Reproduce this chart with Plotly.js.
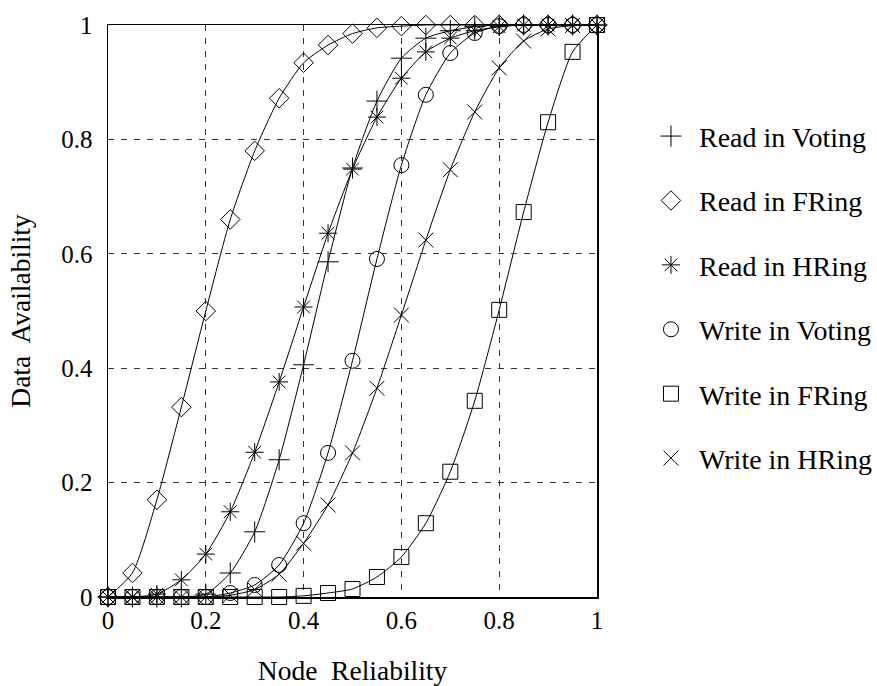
<!DOCTYPE html>
<html>
<head>
<meta charset="utf-8">
<script src="https://cdn.plot.ly/plotly-3.0.1.min.js"></script>
<style>html,body{margin:0;padding:0;background:#fff;}#chart{width:877px;height:686px;}</style>
</head>
<body>
<div id="chart"></div>
<script>
const nodeReliability = [0,0.05,0.1,0.15,0.2,0.25,0.3,0.35,0.4,0.45,0.5,0.55,0.6,0.65,0.7,0.75,0.8,0.85,0.9,0.95,1];
const readVoting  = [0,0,0,0,0.005,0.042,0.114,0.24,0.406,0.586,0.75,0.867,0.942,0.977,0.99,0.997,1,1,1,1,1];
const readFRing   = [0,0.042,0.17,0.332,0.5,0.66,0.78,0.872,0.934,0.965,0.985,0.995,0.998,1,1,1,1,1,1,1,1];
const readHRing   = [0,0,0.005,0.03,0.075,0.149,0.253,0.376,0.507,0.636,0.748,0.839,0.907,0.953,0.977,0.99,0.997,1,1,1,1];
const writeVoting = [0,0,0,0,0,0.007,0.021,0.056,0.129,0.252,0.413,0.591,0.755,0.878,0.951,0.986,0.998,1,1,1,1];
const writeFRing  = [0,0,0,0,0,0,0,0,0.002,0.007,0.014,0.035,0.07,0.129,0.219,0.343,0.502,0.673,0.83,0.953,1];
const writeHRing  = [0,0,0,0,0,0.003,0.013,0.04,0.094,0.161,0.252,0.365,0.493,0.624,0.747,0.848,0.925,0.972,0.993,0.999,1];
const seriesNames = ["Read in Voting","Read in FRing","Read in HRing","Write in Voting","Write in FRing","Write in HRing"];
const seriesData = [readVoting, readFRing, readHRing, writeVoting, writeFRing, writeHRing];
const symbols = ["cross-thin-open","diamond-open","asterisk-open","circle-open","square-open","x-thin-open"];
const tickValues = [0,0.2,0.4,0.6,0.8,1];
const tickLabels = ["0","0.2","0.4","0.6","0.8","1"];

const family = "Liberation Serif, Times New Roman, serif";

const dataTraces = seriesData.map((ys, i) => ({
  x: nodeReliability, y: ys, name: seriesNames[i], type: "scatter", mode: "lines+markers",
  showlegend: false,
  line: {color: "#000", width: 1, shape: "spline", smoothing: 0.6},
  marker: {symbol: symbols[i], size: 15, color: "#000", line: {color: "#000", width: 1}},
  cliponaxis: false
}));
// legend entries (markers only, like the reference key)
const legendTraces = seriesNames.map((nm, i) => ({
  x: [null], y: [null], name: nm, type: "scatter", mode: "markers",
  legendgroup: "g" + i, showlegend: true,
  marker: {symbol: symbols[i], size: 15, color: "#000", line: {color: "#000", width: 1}}
}));

const layout = {
  width: 877, height: 686,
  margin: {l: 108, r: 280, t: 25, b: 89, autoexpand: false},
  paper_bgcolor: "#fff", plot_bgcolor: "#fff",
  font: {family: family, color: "#000", size: 25},
  showlegend: true,
  legend: {x: 1.094, y: 0.849, xanchor: "left", yanchor: "top",
           font: {family: family, size: 28, color: "#000"},
           tracegroupgap: 25, bgcolor: "rgba(0,0,0,0)", itemwidth: 46},
  xaxis: {range: [0, 1], tickvals: tickValues, ticktext: tickLabels,
          tickfont: {family: family, size: 25, color: "#000"},
          showline: true, linecolor: "#000", linewidth: 1.5, mirror: true,
          showgrid: true, gridcolor: "#333", griddash: "6px,7px", gridwidth: 1,
          zeroline: false, ticks: "", automargin: false,
          title: {text: "Node  Reliability", font: {family: family, size: 27.5, color: "#000"}, standoff: 33}},
  yaxis: {range: [0, 1], tickvals: tickValues, ticktext: tickLabels,
          tickfont: {family: family, size: 25, color: "#000"},
          showline: true, linecolor: "#000", linewidth: 1.5, mirror: true,
          showgrid: true, gridcolor: "#333", griddash: "6px,7px", gridwidth: 1,
          zeroline: false, ticks: "outside", ticklen: 9, tickcolor: "rgba(0,0,0,0)", automargin: false,
          title: {text: "Data  Availability", font: {family: family, size: 27.5, color: "#000"}, standoff: 22}}
};
Plotly.newPlot("chart", dataTraces.concat(legendTraces), layout, {displayModeBar: false, staticPlot: true});
</script>
</body>
</html>
